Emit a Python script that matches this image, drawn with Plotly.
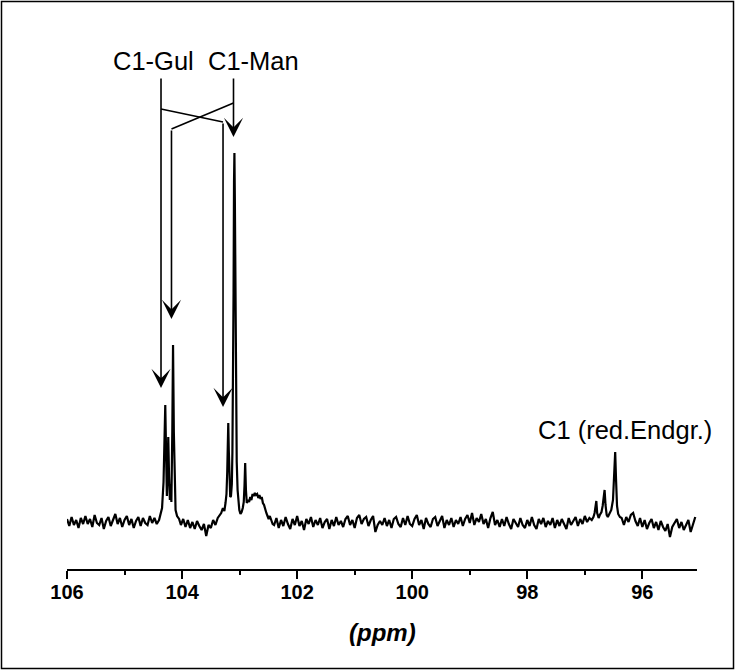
import plotly.graph_objects as go

# ---------------- data ----------------
# chemical shift (ppm) and intensity (arbitrary units, baseline = 0)
ppm_a = [106.00, 105.96, 105.92, 105.88, 105.84, 105.80, 105.76, 105.72, 105.68, 105.64,
         105.60, 105.56, 105.52, 105.48, 105.44, 105.40, 105.36, 105.32, 105.28, 105.24,
         105.20, 105.16, 105.12, 105.08, 105.04, 105.00, 104.96, 104.92, 104.88, 104.84,
         104.80, 104.76, 104.72, 104.68, 104.64, 104.60, 104.56, 104.52, 104.48, 104.44]
int_a = [3, -4, 5, -3, 2, -6, 4, -2, 6, -2,
         3, -5, 7, -1, -3, 4, -7, 1, 5, -4,
         2, 8, -2, 4, -5, 2, 6, -3, 3, -6,
         1, 5, -4, 4, -1, -3, 6, -1, 4, -2]

# C1-Gul / C1-Man region near 104.3 ppm
ppm_b = [104.400, 104.383, 104.348, 104.322, 104.304, 104.292, 104.278, 104.264, 104.249, 104.240,
         104.226, 104.212, 104.198, 104.186, 104.170, 104.157, 104.143, 104.129, 104.113, 104.087,
         104.052]
int_b = [2, 6, 14, 40, 90, 117, 70, 26, 60, 85,
         45, 22, 38, 20, 90, 177, 90, 30, 12, 6,
         3]

ppm_c = [104.02, 103.98, 103.94, 103.90, 103.86, 103.82, 103.78, 103.74, 103.70, 103.66,
         103.62, 103.58, 103.54, 103.50, 103.46, 103.42, 103.38, 103.35]
int_c = [-3, 3, -5, 2, -6, 0, -7, 1, -4, -8,
         -2, -14, -3, -6, 2, -3, 4, 7]

# region near 103.1 ppm (large peak) and 102.7 ppm (broad hump)
ppm_d = [103.320, 103.290, 103.265, 103.245, 103.228, 103.215, 103.205, 103.197, 103.188, 103.176,
         103.163, 103.150, 103.135, 103.125, 103.115, 103.105, 103.097, 103.090, 103.082, 103.072,
         103.062, 103.050, 103.035, 103.020, 103.005, 102.985, 102.965, 102.945, 102.928, 102.915,
         102.903, 102.890, 102.875, 102.855, 102.835, 102.815, 102.795, 102.775, 102.755, 102.735,
         102.715, 102.695, 102.675, 102.655, 102.635, 102.615, 102.595, 102.575, 102.555, 102.535,
         102.515, 102.495, 102.475, 102.450, 102.425]
int_d = [9, 14, 11, 19, 28, 50, 85, 99, 72, 38,
         25, 26, 38, 70, 125, 230, 340, 369, 320, 200,
         125, 60, 32, 20, 12, 8, 10, 14, 20, 36,
         59, 32, 19, 22, 20, 25, 22, 28, 26, 29,
         27, 28, 24, 27, 23, 25, 19, 17, 12, 9,
         6, 3, 6, 1, -2]

ppm_e = [102.40, 102.36, 102.32, 102.28, 102.24, 102.20, 102.16, 102.12, 102.08, 102.04,
         102.00, 101.96, 101.92, 101.88, 101.84, 101.80, 101.76, 101.72, 101.68, 101.64,
         101.60, 101.56, 101.52, 101.48, 101.44, 101.40, 101.36, 101.32, 101.28, 101.24,
         101.20, 101.16, 101.12, 101.08, 101.04, 101.00, 100.96, 100.92, 100.88, 100.84,
         100.80, 100.76, 100.72, 100.68, 100.64, 100.60, 100.56, 100.52, 100.48, 100.44,
         100.40, 100.36, 100.32, 100.28, 100.24, 100.20, 100.16, 100.12, 100.08, 100.04,
         100.00, 99.96, 99.92, 99.88, 99.84, 99.80, 99.76, 99.72, 99.68, 99.64,
         99.60, 99.56, 99.52, 99.48, 99.44, 99.40, 99.36, 99.32, 99.28, 99.24,
         99.20, 99.16, 99.12, 99.08, 99.04, 99.00, 98.96, 98.92, 98.88, 98.84,
         98.80, 98.76, 98.72, 98.68, 98.64, 98.60, 98.56, 98.52, 98.48, 98.44,
         98.40, 98.36, 98.32, 98.28, 98.24, 98.20, 98.16, 98.12, 98.08, 98.04,
         98.00, 97.96, 97.92, 97.88, 97.84, 97.80, 97.76, 97.72, 97.68, 97.64,
         97.60, 97.56, 97.52, 97.48, 97.44, 97.40, 97.36, 97.32, 97.28, 97.24,
         97.20, 97.16, 97.12, 97.08, 97.04, 97.00, 96.96, 96.92]
int_e = [-3, 4, -6, 2, -4, 5, -2, -7, 3, -3,
         6, -4, 1, -8, 3, -2, 5, -5, 2, -3,
         4, -6, 0, 3, -7, 2, -4, 5, -3, 1,
         -5, 3, 6, -3, 2, -6, 4, 7, -2, 3,
         5, -4, 2, 6, -10, -3, 1, -3, 4, -4,
         2, -6, 3, 5, -2, -5, 4, -3, 6, -2,
         -4, 3, 7, -3, 2, -7, 4, -2, -5, 3,
         5, -4, 1, 6, -6, 2, -3, 4, -5, 2,
         -2, 5, -4, 3, 7, -1, 9, -3, 4, 0,
         8, -2, 3, -6, 4, 10, -3, 2, -5, 3,
         -4, 5, -2, -7, 3, -1, -5, 4, -3, -6,
         2, -4, 5, -3, -7, 3, -2, 4, -5, 1,
         -3, 4, -6, 2, -4, 3, -2, -7, 4, -3,
         1, 5, -4, 3, -2, 6, 0, 4]

# C1 of the reducing end group near 96.5 ppm
ppm_f = [96.88, 96.85, 96.83, 96.815, 96.800, 96.785, 96.76, 96.74, 96.71, 96.69,
         96.675, 96.656, 96.64, 96.62, 96.60, 96.57, 96.54, 96.51, 96.49, 96.472,
         96.458, 96.44, 96.42, 96.39]
int_f = [2, 5, 9, 14, 21, 9, 4, 7, 10, 16,
         22, 32, 17, 7, 5, 9, 12, 22, 45, 70,
         44, 16, 8, 5]

ppm_g = [96.36, 96.32, 96.28, 96.24, 96.20, 96.16, 96.12, 96.08, 96.04, 96.00,
         95.96, 95.92, 95.88, 95.84, 95.80, 95.76, 95.72, 95.68, 95.64, 95.60,
         95.56, 95.52, 95.48, 95.44, 95.40, 95.36, 95.32, 95.28, 95.24, 95.20,
         95.16, 95.12, 95.08]
int_g = [4, -3, 5, 0, 7, 9, 1, -4, 4, -5,
         2, -7, -1, 3, -6, 0, -8, 1, -5, -9,
         -2, -15, -5, -1, 3, -6, 0, -8, -2, 2,
         -10, -1, 5]

ppm = ppm_a + ppm_b + ppm_c + ppm_d + ppm_e + ppm_f + ppm_g
intensity = int_a + int_b + int_c + int_d + int_e + int_f + int_g

tick_vals = [106, 104, 102, 100, 98, 96]
minor_vals = [105, 103, 101, 99, 97, 95]
x_range = [106.0, 95.05]
y_range = [-47, 502]

# labels: (text, ppm, intensity)
label_gul = ("C1-Gul", 104.488, 461)
label_man = ("C1-Man", 102.750, 461)
label_red = ("C1 (red.Endgr.)", 96.30, 92)

# arrows: (tip ppm, tip intensity, tail ppm, tail intensity)
arrows = [
    (104.366, 134, 104.366, 445),
    (103.288, 115, 103.288, 400),
    (103.106, 385, 103.106, 445),
    (104.184, 203, 104.184, 393),
]
# connecting diagonal strokes: (ppm0, int0, ppm1, int1)
strokes = [
    (104.366, 413, 103.288, 400),
    (103.106, 419, 104.184, 393),
]

# ---------------- figure ----------------
W, H = 735, 670
FONT = "Liberation Sans, Arial, Helvetica, sans-serif"

fig = go.Figure()
fig.add_trace(go.Scatter(x=ppm, y=intensity, mode="lines",
                         line=dict(color="black", width=2.2),
                         hoverinfo="skip", showlegend=False))

x0_px, x1_px = 67, 697
ybot_px, ytop_px = 569, 20

fig.update_layout(
    width=W, height=H,
    margin=dict(l=0, r=0, t=0, b=0),
    paper_bgcolor="white", plot_bgcolor="white",
    showlegend=False,
    xaxis=dict(
        domain=[x0_px / W, x1_px / W],
        range=x_range, autorange=False,
        showgrid=False, zeroline=False,
        showline=True, linecolor="black", linewidth=1.5,
        ticks="outside", ticklen=8, tickwidth=1.5, tickcolor="black",
        ticklabelstandoff=-4,
        tickvals=tick_vals, ticktext=[str(v) for v in tick_vals],
        tickfont=dict(family=FONT, size=20, color="black", weight="bold"),
        minor=dict(tickvals=minor_vals, ticks="outside", ticklen=4,
                   tickwidth=1.5, tickcolor="black", showgrid=False),
        automargin=False,
    ),
    yaxis=dict(
        domain=[(H - ybot_px) / H, (H - ytop_px) / H],
        range=y_range, autorange=False,
        visible=False, showgrid=False, zeroline=False,
    ),
)

for tx, px, iy in (label_gul, label_man, label_red):
    fig.add_annotation(x=px, y=iy, xref="x", yref="y", text=tx, showarrow=False,
                       xanchor="center", yanchor="middle",
                       font=dict(family=FONT, size=25.5, color="black"))

for (tx, ty, sx, sy) in arrows:
    fig.add_annotation(x=tx, y=ty, ax=sx, ay=sy, xref="x", yref="y",
                       axref="x", ayref="y", text="", showarrow=True,
                       arrowhead=3, arrowsize=2.0, arrowwidth=1.6,
                       arrowcolor="black", standoff=0, startstandoff=0)

for (a0, b0, a1, b1) in strokes:
    fig.add_shape(type="line", x0=a0, y0=b0, x1=a1, y1=b1, xref="x", yref="y",
                  line=dict(color="black", width=1.6))

# axis title
fig.add_annotation(x=0.5 * (x0_px + x1_px) / W, y=(H - 632) / H, xref="paper", yref="paper",
                   text="<b><i>(ppm)</i></b>", showarrow=False,
                   xanchor="center", yanchor="middle",
                   font=dict(family=FONT, size=24, color="black"))

# outer frame
fig.add_shape(type="rect", xref="paper", yref="paper",
              x0=1.5 / W, y0=1 - 668.5 / H, x1=733.5 / W, y1=1 - 1.5 / H,
              line=dict(color="black", width=1.5), fillcolor="rgba(0,0,0,0)")

fig.write_html("out.html")
